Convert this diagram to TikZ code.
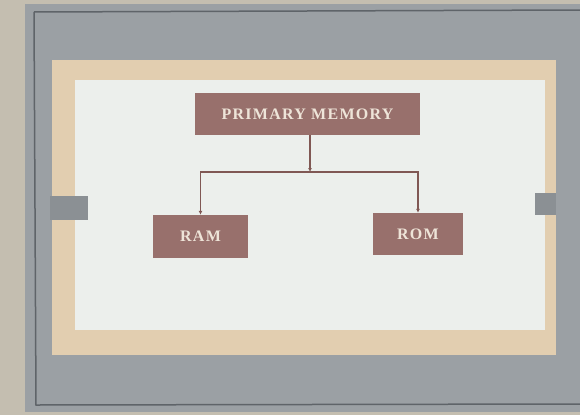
\documentclass[tikz,border=0pt]{standalone}
\usepackage{fontspec}
\setmainfont{Liberation Serif}
\usetikzlibrary{arrows.meta}
\definecolor{wall}{RGB}{196,190,176}
\definecolor{bezel}{RGB}{155,160,164}
\definecolor{bezeldark}{RGB}{95,100,105}
\definecolor{panel}{RGB}{226,206,176}
\definecolor{slide}{RGB}{236,239,236}
\definecolor{boxfill}{RGB}{152,112,108}
\definecolor{boxtext}{RGB}{238,228,216}
\definecolor{link}{RGB}{128,88,84}

\begin{document}
\begin{tikzpicture}[x=1pt,y=-1pt,
    memory/.style={rectangle, fill=boxfill, text=boxtext, inner sep=0pt,
      font=\fontsize{16}{18}\selectfont\bfseries\addfontfeature{LetterSpace=8}},
    link/.style={draw=link, line width=1.3pt},
    linkarrow/.style={link, -{Latex[length=4pt,width=4pt]}}]
\useasboundingbox (0,0) rectangle (580,415);

% screen and slide
\fill[wall] (0,0) rectangle (580,415);
\fill[bezel] (25,4) rectangle (580,412);
\draw[bezeldark, line width=1.5pt] (34,12) -- (580,10);
\draw[bezeldark, line width=1.5pt] (34,12) -- (36,405) -- (580,404);
\fill[panel] (52,60) rectangle (556,355);
\fill[slide] (75,80) rectangle (545,330);
\fill[bezel!90!black] (50,196) rectangle (88,220);
\fill[bezel!90!black] (535,193) rectangle (556,215);

% boxes
\node[memory, minimum width=225pt, minimum height=42pt] (pm) at (307.5,114) {PRIMARY MEMORY};
\node[memory, minimum width=95pt, minimum height=43pt] (ram) at (200.5,236.5) {RAM};
\node[memory, minimum width=90pt, minimum height=42pt] (rom) at (418,234) {ROM};

% connectors
\coordinate (split) at (310,172);
\draw[linkarrow] (pm.south -| split) -- (split);
\draw[linkarrow] (split) -| (ram.north);
\draw[linkarrow] (split) -| (rom.north);
\end{tikzpicture}
\end{document}
